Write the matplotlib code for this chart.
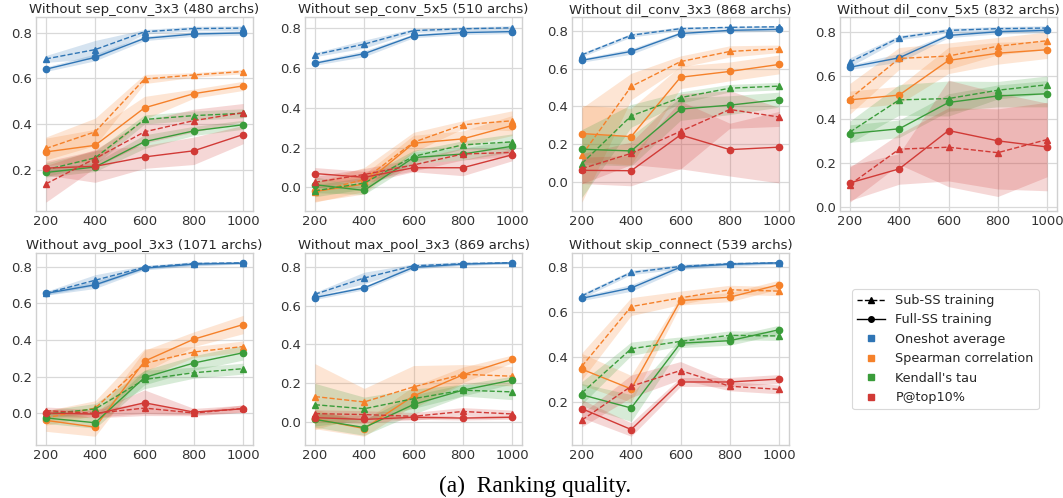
import matplotlib
matplotlib.use("Agg")
import matplotlib.pyplot as plt
from matplotlib.lines import Line2D
import numpy as np

# ---------------- data ----------------
budgets = [200, 400, 600, 800, 1000]
metrics = ["Oneshot average", "Spearman correlation", "Kendall's tau", "P@top10%"]
colors = ["#2f75b5", "#f5812a", "#3a9c3a", "#d13a36"]
titles = [
    "Without sep_conv_3x3 (480 archs)",
    "Without sep_conv_5x5 (510 archs)",
    "Without dil_conv_3x3 (868 archs)",
    "Without dil_conv_5x5 (832 archs)",
    "Without avg_pool_3x3 (1071 archs)",
    "Without max_pool_3x3 (869 archs)",
    "Without skip_connect (539 archs)",
]

# Sub-SS training (dashed, triangles): per panel, per metric
sub_mean = [
    [[0.685, 0.726, 0.804, 0.818, 0.820], [0.293, 0.366, 0.597, 0.615, 0.630],
     [0.200, 0.252, 0.420, 0.437, 0.447], [0.138, 0.249, 0.366, 0.415, 0.450]],
    [[0.667, 0.720, 0.788, 0.797, 0.802], [-0.024, 0.040, 0.227, 0.315, 0.335],
     [-0.017, 0.022, 0.156, 0.214, 0.229], [0.026, 0.065, 0.113, 0.168, 0.176]],
    [[0.674, 0.778, 0.813, 0.820, 0.823], [0.142, 0.506, 0.638, 0.692, 0.706],
     [0.097, 0.350, 0.447, 0.497, 0.508], [0.070, 0.151, 0.268, 0.384, 0.344]],
    [[0.661, 0.773, 0.806, 0.814, 0.817], [0.494, 0.678, 0.689, 0.734, 0.759],
     [0.342, 0.489, 0.495, 0.533, 0.558], [0.102, 0.264, 0.273, 0.248, 0.308]],
    [[0.656, 0.727, 0.798, 0.818, 0.822], [-0.025, 0.029, 0.273, 0.335, 0.365],
     [-0.004, 0.024, 0.185, 0.222, 0.244], [0.015, 0.000, 0.029, 0.002, 0.027]],
    [[0.658, 0.742, 0.805, 0.816, 0.821], [0.130, 0.102, 0.180, 0.245, 0.235],
     [0.088, 0.067, 0.119, 0.163, 0.154], [0.042, 0.037, 0.028, 0.053, 0.040]],
    [[0.672, 0.776, 0.803, 0.815, 0.819], [0.358, 0.624, 0.663, 0.699, 0.693],
     [0.239, 0.436, 0.469, 0.496, 0.493], [0.118, 0.269, 0.339, 0.269, 0.255]],
]
sub_err = [
    [[0.015, 0.04, 0.01, 0.01, 0.01], [0.05, 0.06, 0.02, 0.01, 0.01],
     [0.03, 0.03, 0.02, 0.02, 0.02], [0.08, 0.04, 0.05, 0.05, 0.04]],
    [[0.01, 0.02, 0.01, 0.01, 0.01], [0.05, 0.06, 0.05, 0.02, 0.05],
     [0.03, 0.03, 0.03, 0.02, 0.04], [0.03, 0.03, 0.03, 0.03, 0.02]],
    [[0.01, 0.01, 0.01, 0.005, 0.005], [0.25, 0.07, 0.03, 0.03, 0.02],
     [0.18, 0.06, 0.03, 0.02, 0.02], [0.08, 0.06, 0.2, 0.1, 0.05]],
    [[0.02, 0.01, 0.01, 0.01, 0.01], [0.07, 0.05, 0.06, 0.04, 0.04],
     [0.05, 0.07, 0.08, 0.04, 0.04], [0.08, 0.07, 0.18, 0.2, 0.17]],
    [[0.01, 0.03, 0.01, 0.01, 0.005], [0.04, 0.04, 0.08, 0.03, 0.03],
     [0.02, 0.03, 0.05, 0.03, 0.03], [0.02, 0.02, 0.03, 0.01, 0.02]],
    [[0.01, 0.03, 0.01, 0.01, 0.005], [0.17, 0.07, 0.11, 0.05, 0.05],
     [0.11, 0.06, 0.05, 0.03, 0.04], [0.02, 0.02, 0.02, 0.02, 0.02]],
    [[0.01, 0.01, 0.01, 0.005, 0.005], [0.06, 0.04, 0.03, 0.02, 0.02],
     [0.05, 0.03, 0.02, 0.02, 0.02], [0.03, 0.05, 0.04, 0.02, 0.02]],
]

# Full-SS training (solid, circles)
full_mean = [
    [[0.640, 0.692, 0.775, 0.794, 0.799], [0.278, 0.307, 0.471, 0.533, 0.567],
     [0.188, 0.212, 0.323, 0.370, 0.397], [0.207, 0.215, 0.256, 0.283, 0.354]],
    [[0.624, 0.672, 0.762, 0.778, 0.783], [-0.020, 0.017, 0.222, 0.244, 0.311],
     [0.014, -0.015, 0.150, 0.168, 0.207], [0.070, 0.051, 0.099, 0.099, 0.164]],
    [[0.645, 0.692, 0.787, 0.804, 0.809], [0.256, 0.240, 0.555, 0.586, 0.623],
     [0.173, 0.164, 0.386, 0.407, 0.436], [0.061, 0.059, 0.249, 0.171, 0.184]],
    [[0.638, 0.681, 0.783, 0.800, 0.806], [0.489, 0.511, 0.669, 0.702, 0.718],
     [0.335, 0.357, 0.477, 0.507, 0.517], [0.110, 0.174, 0.349, 0.302, 0.274]],
    [[0.655, 0.702, 0.793, 0.815, 0.820], [-0.038, -0.075, 0.285, 0.405, 0.485],
     [-0.025, -0.051, 0.196, 0.275, 0.331], [0.002, -0.004, 0.058, 0.007, 0.025]],
    [[0.641, 0.691, 0.797, 0.814, 0.820], [0.014, -0.035, 0.133, 0.242, 0.324],
     [0.012, -0.030, 0.089, 0.163, 0.215], [0.021, 0.012, 0.023, 0.019, 0.023]],
    [[0.661, 0.707, 0.800, 0.813, 0.819], [0.345, 0.257, 0.651, 0.666, 0.722],
     [0.231, 0.172, 0.461, 0.472, 0.521], [0.169, 0.076, 0.288, 0.288, 0.301]],
]
full_err = [
    [[0.01, 0.015, 0.01, 0.01, 0.01], [0.06, 0.07, 0.05, 0.02, 0.02],
     [0.02, 0.02, 0.03, 0.02, 0.02], [0.03, 0.07, 0.05, 0.06, 0.04]],
    [[0.01, 0.015, 0.01, 0.01, 0.01], [0.05, 0.05, 0.04, 0.04, 0.05],
     [0.04, 0.02, 0.03, 0.03, 0.03], [0.03, 0.03, 0.02, 0.04, 0.03]],
    [[0.01, 0.015, 0.01, 0.01, 0.01], [0.15, 0.15, 0.06, 0.05, 0.05],
     [0.08, 0.08, 0.06, 0.05, 0.04], [0.07, 0.08, 0.18, 0.14, 0.19]],
    [[0.01, 0.02, 0.01, 0.01, 0.01], [0.04, 0.04, 0.06, 0.05, 0.04],
     [0.04, 0.04, 0.04, 0.05, 0.06], [0.08, 0.07, 0.23, 0.22, 0.2]],
    [[0.01, 0.02, 0.01, 0.01, 0.005], [0.06, 0.05, 0.06, 0.04, 0.05],
     [0.03, 0.03, 0.04, 0.04, 0.04], [0.02, 0.02, 0.07, 0.02, 0.02]],
    [[0.01, 0.01, 0.01, 0.005, 0.005], [0.05, 0.04, 0.05, 0.04, 0.02],
     [0.04, 0.04, 0.05, 0.03, 0.02], [0.02, 0.02, 0.01, 0.01, 0.01]],
    [[0.01, 0.015, 0.01, 0.01, 0.005], [0.07, 0.06, 0.02, 0.02, 0.02],
     [0.05, 0.06, 0.02, 0.02, 0.02], [0.04, 0.03, 0.02, 0.02, 0.02]],
]

caption = "(a)  Ranking quality."

# ---------------- style ----------------
plt.rcParams["font.family"] = ["DejaVu Sans"]
W, H = 1063, 498
fig = plt.figure(figsize=(W / 100, H / 100), dpi=100)

lefts = [36, 305, 572, 840]
width = 217
rows = [(17, 211), (253, 445)]

def add_ax(col, row):
    top, bot = rows[row]
    return fig.add_axes([lefts[col] / W, 1 - bot / H, width / W, (bot - top) / H])

x = np.array(budgets)
for i in range(7):
    ax = add_ax(i % 4, i // 4)
    for k in range(4):
        c = colors[k]
        m = np.array(sub_mean[i][k]); e = np.array(sub_err[i][k])
        ax.fill_between(x, m - e, m + e, color=c, alpha=0.2, lw=0)
        ax.plot(x, m, ls="--", marker="^", color=c, lw=1.0, ms=4.5)
        m = np.array(full_mean[i][k]); e = np.array(full_err[i][k])
        ax.fill_between(x, m - e, m + e, color=c, alpha=0.2, lw=0)
        ax.plot(x, m, ls="-", marker="o", color=c, lw=1.0, ms=4.5)
    ax.set_xticks(budgets)
    ax.set_xlim(160, 1040)
    ax.grid(True, color="#d9d9d9", lw=0.9)
    ax.set_axisbelow(True)
    for s in ax.spines.values():
        s.set_color("#d0d0d0")
        s.set_linewidth(1.0)
    ax.tick_params(length=0, labelsize=9.5, colors="#333333", pad=3)
    ax.set_title(titles[i], fontsize=9.5, color="#262626", pad=3)

handles = [
    Line2D([], [], color="black", ls="--", marker="^", ms=4, lw=1.0),
    Line2D([], [], color="black", ls="-", marker="o", ms=4, lw=1.0),
] + [Line2D([], [], color=c, ls="none", marker="s", ms=4.2) for c in colors]
labels = ["Sub-SS training", "Full-SS training"] + metrics
leg = fig.legend(handles, labels, loc="upper left",
                 bbox_to_anchor=(852 / W, 1 - 289 / H), borderaxespad=0,
                 fontsize=9.2, frameon=True, handlelength=2.2,
                 labelspacing=0.5, borderpad=0.4, fancybox=True)
leg.get_frame().set_edgecolor("#d0d0d0")
leg.get_frame().set_linewidth(0.8)
for t in leg.get_texts():
    t.set_color("#262626")

fig.text(535 / W, 1 - 486 / H, caption, ha="center", va="center",
         fontsize=16.8, family="Liberation Serif")

fig.savefig("out.png", dpi=100)
